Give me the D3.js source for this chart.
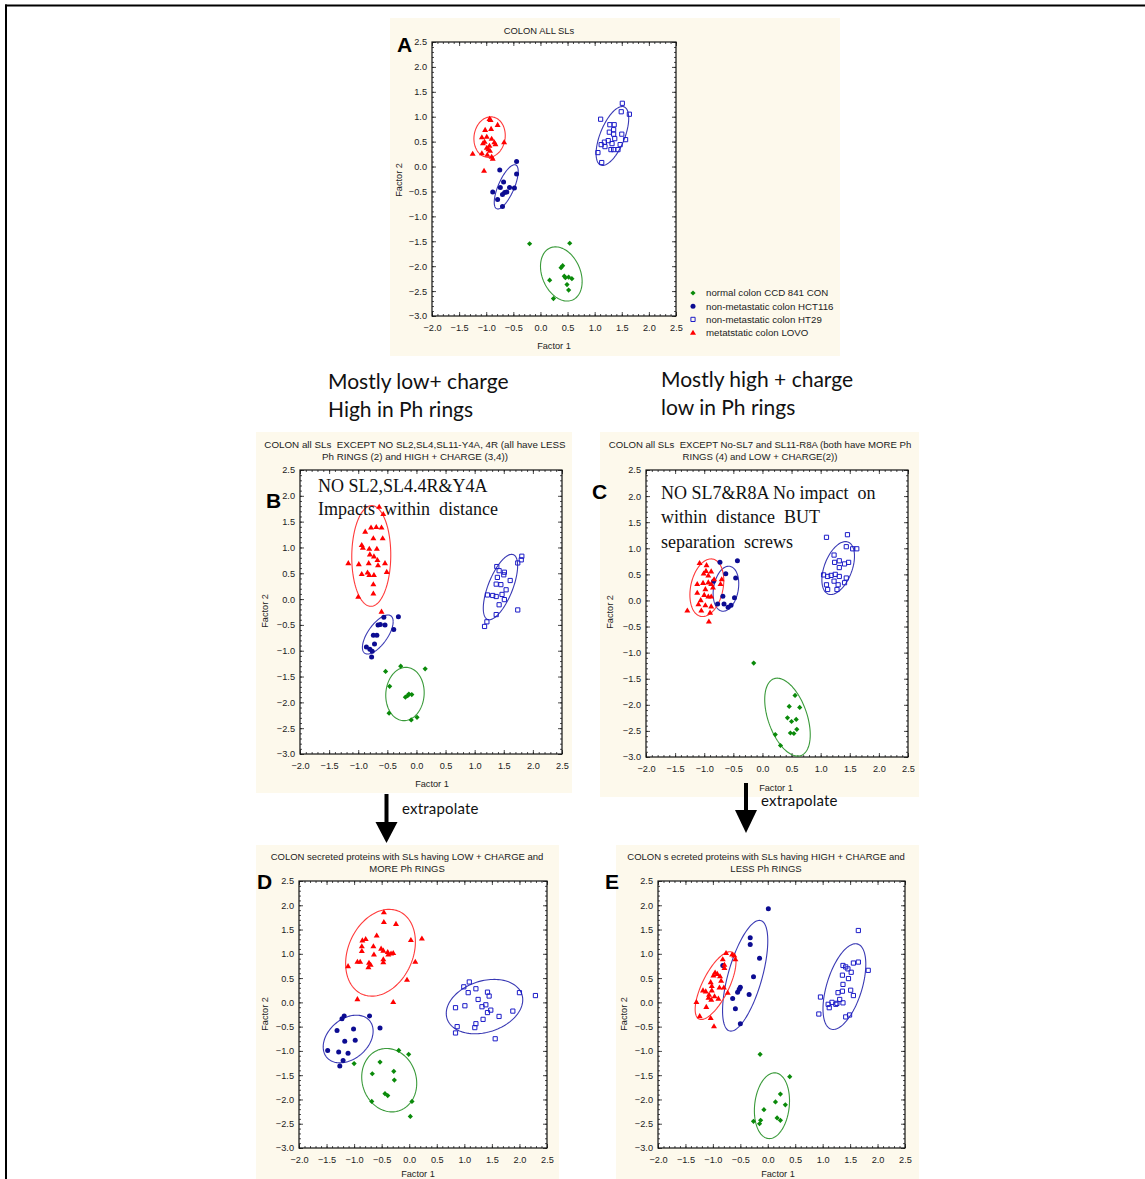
<!DOCTYPE html>
<html>
<head>
<meta charset="utf-8">
<script src="https://cdn.jsdelivr.net/npm/d3@7"></script>
<style>
  html, body { margin: 0; padding: 0; background: #ffffff; }
  svg { display: block; }
  text { white-space: pre; }
</style>
</head>
<body>
<svg id="fig" width="1145" height="1179"></svg>
<script>
// ---------- shared axis settings ----------
const xTicks = [-2.0, -1.5, -1.0, -0.5, 0.0, 0.5, 1.0, 1.5, 2.0, 2.5];
const yTicks = [-3.0, -2.5, -2.0, -1.5, -1.0, -0.5, 0.0, 0.5, 1.0, 1.5, 2.0, 2.5];
const xTitle = "Factor 1";
const yTitle = "Factor 2";

// ---------- groups (legend order) ----------
const groupNames = [
  "normal colon CCD 841 CON",
  "non-metastatic colon HCT116",
  "non-metastatic colon HT29",
  "metatstatic colon LOVO"
];

// ---------- panel A : all SLs ----------
const aNormal = [[-0.20,-1.55],[0.54,-1.54],[0.38,-2.03],[0.41,-1.99],[0.44,-2.20],[0.52,-2.22],[0.58,-2.25],[0.46,-2.23],[0.17,-2.28],[0.49,-2.37],[0.52,-2.48],[0.24,-2.65]];
const aHct116 = [[-0.44,0.10],[-0.75,-0.07],[-0.44,-0.15],[-0.68,-0.31],[-0.88,-0.51],[-0.74,-0.42],[-0.57,-0.42],[-0.48,-0.43],[-0.66,-0.52],[-0.62,-0.51],[-0.70,-0.56],[-0.79,-0.66],[-0.70,-0.80]];
const aHt29 = [[1.51,1.27],[1.11,0.95],[1.49,1.10],[1.64,1.05],[1.28,0.84],[1.36,0.84],[1.35,0.74],[1.27,0.69],[1.35,0.65],[1.50,0.65],[1.37,0.56],[1.57,0.54],[1.18,0.49],[1.25,0.52],[1.12,0.44],[1.19,0.40],[1.32,0.46],[1.47,0.44],[1.30,0.34],[1.35,0.34],[1.43,0.34],[1.06,0.28],[1.13,0.08]];
const aLovo = [[-0.94,0.96],[-0.92,0.94],[-0.79,0.84],[-1.02,0.74],[-0.91,0.76],[-1.08,0.59],[-0.99,0.60],[-0.90,0.56],[-1.03,0.50],[-1.06,0.47],[-0.85,0.49],[-0.67,0.49],[-0.94,0.42],[-0.99,0.38],[-1.25,0.26],[-1.08,0.27],[-0.93,0.32],[-0.98,0.24],[-0.90,0.20],[-0.88,0.16],[-1.04,-0.08],[-0.83,0.45],[-0.96,0.35]];
// ellipses: [centre x, centre y, half-width x, half-height y, correlation]
const aEllipses = [[0.385,-2.156,0.384,0.544,-0.28],[-0.631,-0.407,0.221,0.444,0.70],[1.327,0.614,0.301,0.591,0.60],[-0.938,0.591,0.289,0.407,0.08]];

// ---------- panel B : without SL2, SL4, SL11-Y4A, 4R ----------
const bNormal = [[-0.53,-1.40],[-0.27,-1.30],[0.15,-1.35],[-0.46,-1.69],[-0.19,-1.90],[-0.15,-1.87],[-0.13,-1.84],[-0.08,-1.85],[-0.47,-2.21],[-0.09,-2.34],[0.01,-2.29]];
const bHct116 = [[-0.56,-0.35],[-0.31,-0.34],[-0.66,-0.50],[-0.62,-0.49],[-0.54,-0.50],[-0.39,-0.59],[-0.68,-0.70],[-0.74,-0.70],[-0.72,-0.87],[-0.86,-0.93],[-0.80,-0.97],[-0.76,-1.01],[-0.77,-1.12]];
const bHt29 = [[1.81,0.83],[1.80,0.76],[1.74,0.70],[1.38,0.63],[1.42,0.55],[1.51,0.52],[1.50,0.47],[1.39,0.42],[1.61,0.36],[1.37,0.29],[1.45,0.28],[1.54,0.18],[1.22,0.08],[1.31,0.07],[1.37,0.05],[1.47,0.09],[1.51,-0.01],[1.42,-0.11],[1.74,-0.21],[1.37,-0.30],[1.21,-0.44],[1.17,-0.53]];
const bLovo = [[-0.64,1.79],[-0.57,1.65],[-0.88,1.31],[-0.78,1.39],[-0.69,1.40],[-0.60,1.39],[-0.74,1.18],[-0.58,1.18],[-0.94,1.05],[-0.92,1.00],[-0.81,0.98],[-0.68,0.98],[-0.80,0.87],[-0.73,0.83],[-0.67,0.76],[-1.17,0.70],[-0.99,0.68],[-0.82,0.70],[-0.66,0.66],[-0.54,0.70],[-0.94,0.49],[-0.84,0.52],[-0.81,0.47],[-0.73,0.47],[-0.51,0.53],[-0.74,0.29],[-0.74,0.11],[-1.00,0.05],[-0.60,-0.24]];
const bEllipses = [[-0.197,-1.838,0.330,0.516,0.05],[-0.664,-0.686,0.264,0.378,0.66],[1.443,0.234,0.295,0.633,0.65],[-0.776,0.835,0.335,0.975,0.02]];

// ---------- panel C : without SL7 and SL11-R8A ----------
const cNormal = [[-0.15,-1.20],[0.56,-1.82],[0.46,-2.03],[0.64,-2.05],[0.43,-2.25],[0.58,-2.28],[0.50,-2.32],[0.59,-2.47],[0.48,-2.54],[0.54,-2.55],[0.22,-2.57],[0.31,-2.78]];
const cHct116 = [[-0.73,0.73],[-0.43,0.76],[-0.63,0.51],[-0.46,0.43],[-0.84,0.37],[-0.68,0.08],[-0.48,0.05],[-0.77,-0.07],[-0.66,-0.07],[-0.54,-0.09],[-0.59,-0.13]];
const cHt29 = [[1.10,1.21],[1.46,1.26],[1.44,1.03],[1.55,0.99],[1.62,0.99],[1.23,0.87],[1.32,0.76],[1.24,0.73],[1.41,0.70],[1.48,0.73],[1.32,0.63],[1.05,0.49],[1.12,0.46],[1.18,0.48],[1.25,0.50],[1.32,0.46],[1.44,0.43],[1.23,0.37],[1.41,0.34],[1.10,0.30],[1.30,0.30],[1.12,0.21],[1.28,0.21]];
const cLovo = [[-1.08,0.72],[-0.96,0.68],[-0.97,0.57],[-0.88,0.56],[-1.01,0.52],[-0.93,0.48],[-0.83,0.41],[-0.70,0.41],[-1.12,0.32],[-1.02,0.34],[-0.93,0.35],[-0.88,0.32],[-0.98,0.22],[-0.85,0.25],[-0.72,0.32],[-1.12,0.15],[-1.00,0.11],[-0.93,0.08],[-0.88,0.08],[-1.06,0.01],[-1.10,-0.07],[-0.98,-0.09],[-0.88,-0.11],[-1.29,-0.19],[-1.05,-0.19],[-0.90,-0.23],[-0.92,-0.40]];
const cEllipses = [[0.430,-2.236,0.391,0.747,-0.45],[-0.627,0.225,0.220,0.431,0.22],[1.301,0.621,0.280,0.507,0.45],[-0.955,0.244,0.291,0.552,0.25]];

// ---------- panel D : low + charge, more Ph rings ----------
const dNormal = [[-1.00,-1.26],[-0.19,-0.99],[-0.01,-1.07],[-0.53,-1.23],[-0.67,-1.47],[-0.28,-1.42],[-0.27,-1.60],[-0.44,-1.88],[-0.39,-1.92],[-0.68,-2.04],[0.05,-2.04],[0.02,-2.35]];
const dHct116 = [[-1.18,-0.28],[-1.22,-0.34],[-0.72,-0.28],[-0.53,-0.53],[-1.31,-0.58],[-1.01,-0.55],[-0.98,-0.78],[-1.17,-0.80],[-1.48,-0.99],[-1.28,-1.02],[-1.11,-1.05],[-1.20,-1.20],[-1.26,-1.31]];
const dHt29 = [[1.09,0.42],[0.99,0.32],[1.21,0.28],[1.07,0.20],[1.42,0.21],[1.45,0.13],[2.00,0.20],[2.29,0.14],[1.25,0.06],[1.01,-0.07],[1.39,-0.05],[1.32,-0.09],[0.84,-0.11],[1.48,-0.16],[1.42,-0.21],[1.88,-0.18],[1.63,-0.29],[1.34,-0.35],[1.21,-0.44],[0.87,-0.50],[1.19,-0.52],[0.84,-0.63],[1.56,-0.75]];
const dLovo = [[-0.46,1.86],[-0.46,1.66],[-0.24,1.62],[0.23,1.32],[0.03,1.29],[-0.79,1.31],[-0.85,1.28],[-0.59,1.38],[-0.86,1.16],[-0.65,1.16],[-0.86,1.06],[-0.51,1.11],[-0.47,1.07],[-0.39,1.04],[-0.33,1.01],[-0.29,1.02],[-0.38,0.99],[-0.64,0.99],[-0.94,0.84],[-0.89,0.84],[-0.47,0.89],[-0.47,0.83],[0.11,0.84],[-0.73,0.82],[-0.70,0.78],[-0.74,0.73],[-1.11,0.75],[-0.04,0.47],[-0.94,0.07],[-0.29,0.01]];
const dEllipses = [[-0.363,-1.603,0.499,0.653,-0.10],[-1.108,-0.755,0.453,0.491,0.33],[1.366,-0.087,0.694,0.560,0.25],[-0.521,1.022,0.633,0.894,0.25]];

// ---------- panel E : high + charge, less Ph rings ----------
const eNormal = [[-0.14,-1.07],[0.40,-1.53],[0.23,-1.89],[0.14,-2.05],[0.32,-2.11],[-0.07,-2.21],[0.17,-2.38],[0.23,-2.43],[-0.26,-2.45],[-0.13,-2.43],[-0.15,-2.50]];
const eHct116 = [[0.01,1.93],[-0.32,1.33],[-0.32,1.19],[-0.82,0.76],[-0.15,0.91],[-0.26,0.53],[-0.50,0.31],[-0.55,0.21],[-0.52,0.27],[-0.34,0.16],[-0.64,0.08],[-0.59,-0.13],[-0.50,-0.44]];
const eHt29 = [[1.65,1.48],[0.96,0.11],[0.93,-0.24],[1.37,0.76],[1.42,0.73],[1.56,0.81],[1.65,0.83],[1.83,0.66],[1.46,0.69],[1.52,0.62],[1.36,0.56],[1.47,0.49],[1.37,0.37],[1.51,0.25],[1.36,0.23],[1.28,0.20],[1.56,0.14],[1.31,0.06],[1.17,0.00],[1.26,-0.02],[1.37,-0.01],[1.10,-0.04],[1.24,-0.04],[1.12,-0.11],[1.42,-0.30],[1.49,-0.26]];
const eLovo = [[-0.76,1.02],[-0.65,0.99],[-0.61,0.97],[-0.59,0.89],[-0.82,0.89],[-0.79,0.78],[-0.79,0.71],[-0.96,0.62],[-0.92,0.59],[-0.99,0.56],[-0.87,0.54],[-0.85,0.45],[-1.04,0.42],[-1.02,0.34],[-0.88,0.31],[-0.80,0.31],[-1.18,0.25],[-1.13,0.23],[-1.02,0.25],[-0.73,0.20],[-1.07,0.16],[-0.97,0.13],[-1.08,0.10],[-0.90,0.08],[-1.03,0.06],[-1.30,0.01],[-1.12,-0.09],[-1.24,-0.28],[-1.04,-0.32],[-0.98,-0.49]];
const eEllipses = [[0.076,-2.129,0.320,0.677,0.15],[-0.412,0.548,0.412,1.141,0.63],[1.396,0.325,0.390,0.883,0.52],[-0.951,0.345,0.372,0.698,0.70]];

// ---------- panel texts ----------
const titleA = ["COLON ALL SLs"];
const titleB = ["COLON all SLs  EXCEPT NO SL2,SL4,SL11-Y4A, 4R (all have LESS", "Ph RINGS (2) and HIGH + CHARGE (3,4))"];
const titleC = ["COLON all SLs  EXCEPT No-SL7 and SL11-R8A (both have MORE Ph", "RINGS (4) and LOW + CHARGE(2))"];
const titleD = ["COLON secreted proteins with SLs having LOW + CHARGE and", "MORE Ph RINGS"];
const titleE = ["COLON s ecreted proteins with SLs having HIGH + CHARGE and", "LESS Ph RINGS"];
const noteB = ["NO SL2,SL4.4R&Y4A", "Impacts  within  distance"];
const noteC = ["NO SL7&R8A No impact  on", "within  distance  BUT", "separation  screws"];
const headLeft = ["Mostly low+ charge", "High in Ph rings"];
const headRight = ["Mostly high + charge", "low in Ph rings"];
const arrowLabel = "extrapolate";

// ---------- styling ----------
const BG = "#fdf9ec";
const markStyle = [
  { shape: "diamond",  fill: "#0a8a0a", stroke: "none",    ell: "#3a9a3a" },
  { shape: "circle",   fill: "#0c0c92", stroke: "none",    ell: "#3a3ab4" },
  { shape: "square",   fill: "none",    stroke: "#1c1cc8", ell: "#3a3ab4" },
  { shape: "triangle", fill: "#ff0000", stroke: "none",    ell: "#ff3a3a" }
];

const svg = d3.select("#fig");

// page border (top and left rule)
svg.append("rect").attr("x", 5).attr("y", 4.5).attr("width", 1140).attr("height", 2).attr("fill", "#000");
svg.append("rect").attr("x", 5).attr("y", 4.5).attr("width", 2).attr("height", 1175).attr("fill", "#000");

function markPath(shape, s) {
  if (shape === "diamond") return `M0,${-s}L${s},0L0,${s}L${-s},0Z`;
  if (shape === "square") return `M${-s},${-s}H${s}V${s}H${-s}Z`;
  if (shape === "triangle") return `M0,${-s * 1.1}L${s * 1.15},${s * 0.85}L${-s * 1.15},${s * 0.85}Z`;
  return d3.symbol(d3.symbolCircle, Math.PI * s * s)();
}
const markSize = { diamond: 2.6, circle: 2.5, square: 2.1, triangle: 2.6 };

function ellipsePoints(e, n = 120) {
  const [cx, cy, sx, sy, r] = e;
  const k = Math.sqrt(1 - r * r);
  return d3.range(n + 1).map(i => {
    const t = 2 * Math.PI * i / n;
    return [cx + sx * Math.cos(t), cy + sy * (r * Math.cos(t) + k * Math.sin(t))];
  });
}

const axFont = "'Liberation Sans', Arial, sans-serif";

function drawPanel(p) {
  const g = svg.append("g");
  g.append("rect").attr("x", p.bg[0]).attr("y", p.bg[1])
    .attr("width", p.bg[2] - p.bg[0]).attr("height", p.bg[3] - p.bg[1]).attr("fill", BG);

  const x = d3.scaleLinear().domain([-2, 2.5]).range([p.x0, p.x1]);
  const y = d3.scaleLinear().domain([-3, 2.5]).range([p.y1, p.y0]);

  // plot area
  g.append("rect").attr("x", p.x0).attr("y", p.y0)
    .attr("width", p.x1 - p.x0).attr("height", p.y1 - p.y0).attr("fill", "#fff");

  const fmt = d3.format(".1f");
  const minor = d3.range(-30, 26).map(v => v / 10);

  // axes: labelled bottom / left, inward ticks on every side
  const bottom = g.append("g").attr("transform", `translate(0,${p.y1})`)
    .call(d3.axisBottom(x).tickValues(xTicks).tickFormat(fmt).tickSize(0).tickPadding(8));
  const left = g.append("g").attr("transform", `translate(${p.x0},0)`)
    .call(d3.axisLeft(y).tickValues(yTicks).tickFormat(fmt).tickSize(0).tickPadding(5));
  [bottom, left].forEach(a => {
    a.select(".domain").remove();
    a.selectAll("text").attr("font-family", axFont).attr("font-size", 9.2).attr("fill", "#222");
  });
  const minorX = d3.range(-20, 26).map(v => v / 10);
  g.append("g").attr("transform", `translate(0,${p.y1})`).call(d3.axisTop(x).tickValues(minorX).tickSize(2).tickFormat(""));
  g.append("g").attr("transform", `translate(0,${p.y0})`).call(d3.axisBottom(x).tickValues(minorX).tickSize(2).tickFormat(""));
  g.append("g").attr("transform", `translate(${p.x0},0)`).call(d3.axisRight(y).tickValues(minor).tickSize(2).tickFormat(""));
  g.append("g").attr("transform", `translate(${p.x1},0)`).call(d3.axisLeft(y).tickValues(minor).tickSize(2).tickFormat(""));
  g.append("g").attr("transform", `translate(0,${p.y1})`).call(d3.axisTop(x).tickValues(xTicks).tickSize(4).tickFormat(""));
  g.append("g").attr("transform", `translate(0,${p.y0})`).call(d3.axisBottom(x).tickValues(xTicks).tickSize(4).tickFormat(""));
  g.append("g").attr("transform", `translate(${p.x0},0)`).call(d3.axisRight(y).tickValues(yTicks).tickSize(4).tickFormat(""));
  g.append("g").attr("transform", `translate(${p.x1},0)`).call(d3.axisLeft(y).tickValues(yTicks).tickSize(4).tickFormat(""));
  g.selectAll(".domain").remove();
  g.selectAll(".tick line").attr("stroke", "#222").attr("stroke-width", 0.8);

  g.append("rect").attr("x", p.x0).attr("y", p.y0)
    .attr("width", p.x1 - p.x0).attr("height", p.y1 - p.y0)
    .attr("fill", "none").attr("stroke", "#111").attr("stroke-width", 1.2);

  // ellipses
  const line = d3.line().x(d => x(d[0])).y(d => y(d[1]));
  p.ellipses.forEach((e, i) => {
    g.append("path").attr("d", line(ellipsePoints(e)))
      .attr("fill", "none").attr("stroke", markStyle[i].ell).attr("stroke-width", 1.1);
  });

  // points
  p.series.forEach((pts, i) => {
    const st = markStyle[i];
    g.append("g").selectAll("path").data(pts).join("path")
      .attr("transform", d => `translate(${x(d[0])},${y(d[1])})`)
      .attr("d", markPath(st.shape, markSize[st.shape]))
      .attr("fill", st.fill).attr("stroke", st.stroke).attr("stroke-width", 1);
  });

  // title
  g.append("g").selectAll("text").data(p.title).join("text")
    .attr("x", p.titleX).attr("y", (d, i) => p.titleY + i * 12)
    .attr("text-anchor", "middle").attr("font-family", axFont).attr("font-size", p.titleSize).attr("fill", "#222")
    .text(d => d);

  // axis titles
  g.append("text").attr("x", p.f1[0]).attr("y", p.f1[1]).attr("text-anchor", "middle")
    .attr("font-family", axFont).attr("font-size", 9.2).attr("fill", "#222").text(xTitle);
  g.append("text").attr("transform", `translate(${p.f2[0]},${p.f2[1]}) rotate(-90)`)
    .attr("text-anchor", "middle").attr("dominant-baseline", "middle")
    .attr("font-family", axFont).attr("font-size", 9.2).attr("fill", "#222").text(yTitle);

  // panel letter
  g.append("text").attr("x", p.letter[1]).attr("y", p.letter[2])
    .attr("font-family", axFont).attr("font-weight", "bold").attr("font-size", 21).attr("fill", "#000")
    .text(p.letter[0]);

  return { g, x, y };
}

const panels = [
  { bg: [390, 18, 840, 356], x0: 432, x1: 676, y0: 42, y1: 316,
    series: [aNormal, aHct116, aHt29, aLovo], ellipses: aEllipses, titleSize: 9.4,
    title: titleA, titleX: 539, titleY: 34, f1: [554, 349], f2: [400, 180], letter: ["A", 397, 52] },
  { bg: [256, 432, 572, 793], x0: 300, x1: 562, y0: 470, y1: 754,
    series: [bNormal, bHct116, bHt29, bLovo], ellipses: bEllipses, titleSize: 9.8,
    title: titleB, titleX: 415, titleY: 448, f1: [432, 787], f2: [266, 611], letter: ["B", 266, 508] },
  { bg: [600, 432, 919, 797], x0: 646, x1: 908, y0: 470, y1: 757,
    series: [cNormal, cHct116, cHt29, cLovo], ellipses: cEllipses, titleSize: 9.6,
    title: titleC, titleX: 760, titleY: 448, f1: [776, 791], f2: [611, 612], letter: ["C", 592, 499] },
  { bg: [256, 845, 559, 1179], x0: 299, x1: 547, y0: 881, y1: 1148,
    series: [dNormal, dHct116, dHt29, dLovo], ellipses: dEllipses, titleSize: 9.5,
    title: titleD, titleX: 407, titleY: 860, f1: [418, 1177], f2: [266, 1014], letter: ["D", 257, 889] },
  { bg: [616, 845, 919, 1179], x0: 658, x1: 905, y0: 881, y1: 1148,
    series: [eNormal, eHct116, eHt29, eLovo], ellipses: eEllipses, titleSize: 9.5,
    title: titleE, titleX: 766, titleY: 860, f1: [778, 1177], f2: [625, 1014], letter: ["E", 605, 889] }
];

const drawn = panels.map(drawPanel);

// legend of panel A
const legend = svg.append("g");
groupNames.forEach((name, i) => {
  const st = markStyle[i];
  const yy = 293 + i * 13.2;
  legend.append("path").attr("transform", `translate(693,${yy})`)
    .attr("d", markPath(st.shape, markSize[st.shape]))
    .attr("fill", st.fill).attr("stroke", st.stroke).attr("stroke-width", 1);
  legend.append("text").attr("x", 706).attr("y", yy + 3.3)
    .attr("font-family", axFont).attr("font-size", 9.7).attr("fill", "#222")
    .text(name);
});

// annotations inside B and C
const serif = "'Liberation Serif', 'Times New Roman', serif";
drawn[1].g.append("g").selectAll("text").data(noteB).join("text")
  .attr("x", 318).attr("y", (d, i) => 492 + i * 23)
  .attr("font-family", serif).attr("font-size", 18).attr("fill", "#111").text(d => d);
drawn[2].g.append("g").selectAll("text").data(noteC).join("text")
  .attr("x", 661).attr("y", (d, i) => 499 + i * 24.3)
  .attr("font-family", serif).attr("font-size", 18).attr("fill", "#111").text(d => d);

// section headings
const sans = "Lato, 'Open Sans', sans-serif";
svg.append("g").selectAll("text").data(headLeft).join("text")
  .attr("x", 328).attr("y", (d, i) => 389 + i * 28)
  .attr("font-family", sans).attr("font-size", 21).attr("fill", "#111").text(d => d);
svg.append("g").selectAll("text").data(headRight).join("text")
  .attr("x", 661).attr("y", (d, i) => 387 + i * 27.5)
  .attr("font-family", sans).attr("font-size", 21).attr("fill", "#111").text(d => d);

// arrows between rows
function arrow(xc, yTop, yBot, headTop) {
  svg.append("rect").attr("x", xc - 2).attr("y", yTop).attr("width", 4).attr("height", headTop - yTop + 1).attr("fill", "#000");
  svg.append("path").attr("d", `M${xc - 11},${headTop}L${xc + 11},${headTop}L${xc},${yBot}Z`).attr("fill", "#000");
}
arrow(386.5, 794, 843, 822);
arrow(746, 783, 833, 810);
svg.append("text").attr("x", 402).attr("y", 814).attr("font-family", sans).attr("font-size", 15)
  .attr("letter-spacing", 0.2).attr("fill", "#111").text(arrowLabel);
svg.append("text").attr("x", 761).attr("y", 806).attr("font-family", sans).attr("font-size", 15)
  .attr("letter-spacing", 0.2).attr("fill", "#111").text(arrowLabel);
</script>
</body>
</html>
